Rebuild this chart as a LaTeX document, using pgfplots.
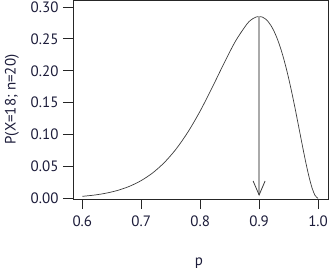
\documentclass[border=0pt]{standalone}
\usepackage{pgfplots}
\pgfplotsset{compat=1.18}
\usetikzlibrary{arrows.meta}
\usepackage{fontspec}
\setmainfont{PT Sans}
\definecolor{txt}{RGB}{28,28,58}
\definecolor{curve}{RGB}{60,60,60}
\definecolor{shaft}{RGB}{170,170,170}
\begin{document}
\begin{tikzpicture}
\useasboundingbox (-73pt,-75pt) rectangle (256pt,199pt);
\begin{axis}[
  at={(0,0)}, anchor=south west,
  scale only axis, width=255pt, height=199pt,
  xmin=0.5842, xmax=1.0169, ymin=-0.0011, ymax=0.3110,
  axis line style={line width=0.8pt, black!85},
  xtick={0.6,0.7,0.8,0.9,1.0},
  ytick={0,0.05,0.1,0.15,0.2,0.25,0.3},
  xticklabels={0.6,0.7,0.8,0.9,1.0},
  yticklabels={0.00,0.05,0.10,0.15,0.20,0.25,0.30},
  tick align=outside, xtick pos=bottom, ytick pos=left,
  major tick length=10pt,
  tick style={line width=0.8pt, black!85},
  every tick label/.append style={font=\fontsize{15}{17}\selectfont, text=txt},
  xticklabel style={yshift=-3pt},
  yticklabel style={xshift=-1pt},
  xlabel={p}, ylabel={P(X=18; n=20)},
  xlabel style={at={([yshift=-64pt]axis description cs:0.494,0)}, anchor=center, font=\fontsize{15}{17}\selectfont, text=txt},
  ylabel style={at={([xshift=-61pt]axis description cs:0,0.5)}, anchor=center, rotate=0, font=\fontsize{15}{17}\selectfont, text=txt},
  clip=false,
]
\addplot[curve, line width=0.7pt, smooth] coordinates {
(0.60,0.003087) (0.62,0.005026) (0.64,0.007993) (0.66,0.012410) (0.68,0.018808)
(0.70,0.027846) (0.72,0.040278) (0.74,0.056873) (0.76,0.078315) (0.78,0.105055)
(0.80,0.136906) (0.82,0.172959) (0.84,0.210865) (0.86,0.246577) (0.88,0.274062)
(0.89,0.282118) (0.895,0.284385) (0.90,0.285180) (0.905,0.284393) (0.91,0.281866)
(0.915,0.277406) (0.92,0.271073) (0.925,0.262664) (0.93,0.252138) (0.935,0.239435)
(0.94,0.224561) (0.945,0.207600) (0.95,0.188677) (0.955,0.167973) (0.96,0.145799)
(0.965,0.122572) (0.97,0.098832) (0.975,0.075287) (0.98,0.052830) (0.985,0.032568)
(0.99,0.015856) (0.995,0.004340) (1.00,0.0)
};
\addplot[shaft, line width=1.4pt, -{Straight Barb[length=14pt,width=12pt,line width=0.8pt,color=curve]}] coordinates {(0.9,0.28518) (0.9,0.0036)};
\end{axis}
\end{tikzpicture}
\end{document}
